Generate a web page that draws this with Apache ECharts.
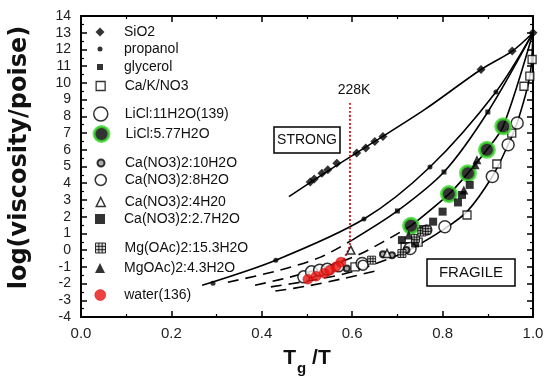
<!DOCTYPE html>
<html><head><meta charset="utf-8">
<script src="https://cdn.jsdelivr.net/npm/echarts@6/dist/echarts.min.js"></script>
<style>html,body{margin:0;padding:0;background:#fff}#c{width:547px;height:383px}</style>
</head><body><div id="c"></div>
<script>
// ---------------- data ----------------
const xTickValues = [0.0, 0.2, 0.4, 0.6, 0.8, 1.0];
const yTickValues = [-4,-3,-2,-1,0,1,2,3,4,5,6,7,8,9,10,11,12,13,14];

const legendNames = ['SiO2','propanol','glycerol','Ca/K/NO3','LiCl:11H2O(139)','LiCl:5.77H2O',
  'Ca(NO3)2:10H2O','Ca(NO3)2:8H2O','Ca(NO3)2:4H20','Ca(NO3)2:2.7H2O','Mg(OAc)2:15.3H2O','MgOAc)2:4.3H2O','water(136)'];

// solid curves
const sio2LineX = [0.46,0.55,0.65,0.76,0.885,0.954,1.0];
const sio2LineY = [3.2,4.8,6.5,8.4,10.8,11.9,13.0];
const propLineX = [0.268,0.431,0.626,0.772,0.918,1.0];
const propLineY = [-2.1,-0.6,1.86,4.97,9.46,13.0];
const glyLineX = [0.60,0.70,0.803,0.90,1.0];
const glyLineY = [0.6,2.34,4.67,8.26,13.0];
const greenLineX = [0.73,0.814,0.856,0.898,0.934,1.0];
const greenLineY = [1.45,3.35,4.6,6.0,7.4,13.0];
const lowLineX = [0.72,0.80,0.854,0.91,0.945,0.965,0.993,1.0];
const lowLineY = [-0.1,1.2,2.3,4.4,6.3,7.6,10.4,13.0];
// dashed curves
const dashAX = [0.325,0.44,0.53,0.60];
const dashAY = [-1.92,-1.2,-0.42,0.6];
const dashBX = [0.385,0.45,0.53,0.62,0.73];
const dashBY = [-2.1,-1.7,-1.1,-0.2,1.45];
const dashCX = [0.42,0.50,0.60,0.72];
const dashCY = [-2.2,-1.85,-1.3,-0.1];
const dashDX = [0.43,0.50,0.58,0.66];
const dashDY = [-2.45,-2.15,-1.7,-1.2];
// 228K red dotted trace
const redLineX = [0.595,0.595,0.584,0.575];
const redLineY = [8.8,0.48,-0.42,-0.78];

// markers
const sio2X = [0.507,0.516,0.533,0.546,0.566,0.61,0.63,0.65,0.668,0.885,0.954,1.0];
const sio2Y = [4.07,4.25,4.6,4.8,5.2,5.8,6.1,6.5,6.8,10.8,11.9,13.0];
const propX = [0.292,0.431,0.626,0.772,0.918];
const propY = [-1.98,-0.6,1.86,4.97,9.46];
const glyX = [0.70,0.803,0.90];
const glyY = [2.34,4.67,8.26];
const cknX = [0.606,0.717,0.746,0.854,0.92,0.953,0.98,0.993,0.998];
const cknY = [-1.0,0.2,0.48,2.1,5.15,7.0,9.8,10.4,11.4];
const licl11X = [0.493,0.51,0.528,0.545,0.622,0.728,0.805,0.91,0.945,0.965];
const licl11Y = [-1.6,-1.3,-1.2,-1.15,-0.8,0.1,1.4,4.4,6.3,7.6];
const licl577X = [0.73,0.814,0.856,0.898,0.934];
const licl577Y = [1.45,3.35,4.6,6.0,7.4];
const can10X = [0.588,0.668,0.688,0.72];
const can10Y = [-1.1,-0.25,-0.3,0.0];
const can8X = [0.57,0.624,0.765];
const can8Y = [-1.0,-0.9,1.2];
const can4X = [0.597,0.677];
const can4Y = [0.0,-0.2];
const can27X = [0.71,0.739,0.757,0.779,0.80,0.834,0.843,0.86];
const can27Y = [0.6,0.4,1.26,1.7,2.3,2.85,3.3,3.9];
const mg15X = [0.643,0.71,0.74,0.754,0.765];
const mg15Y = [-0.6,-0.2,0.7,1.08,1.2];
const mg43X = [0.725,0.847,0.872,0.876];
const mg43Y = [0.9,3.6,5.1,5.4];
const waterX = [0.502,0.52,0.538,0.551,0.564,0.575];
const waterY = [-1.74,-1.56,-1.38,-1.2,-1.0,-0.72];

// ---------------- styling / layout ----------------
const FONT = 'Liberation Sans, Arial, sans-serif';
const pairs = (xs, ys) => xs.map((x, i) => [x, ys[i]]);
const gridSquare = 'path://M0,0H10V10H0Z M3.33,0V10 M6.67,0V10 M0,3.33H10 M0,6.67H10';

const markerStyles = [
  {symbol:'diamond', size:9, icon:9, style:{color:'#000'}},
  {symbol:'circle', size:5, icon:5, style:{color:'#000'}},
  {symbol:'rect', size:5, icon:6, style:{color:'#000'}},
  {symbol:'rect', size:8, icon:9, style:{color:'#fff', borderColor:'#000', borderWidth:1.3}},
  {symbol:'circle', size:12, icon:14, style:{color:'#fff', borderColor:'#000', borderWidth:1.5}},
  {symbol:'circle', size:15, icon:15, style:{color:'#000', borderColor:'#3ddc2e', borderWidth:3}},
  {symbol:'circle', size:6, icon:7, style:{color:'#999', borderColor:'#000', borderWidth:2}},
  {symbol:'circle', size:10, icon:11, style:{color:'#fff', borderColor:'#000', borderWidth:1.5}},
  {symbol:'triangle', size:8, icon:9, style:{color:'#fff', borderColor:'#000', borderWidth:1.5}},
  {symbol:'rect', size:8, icon:10, style:{color:'#000'}},
  {symbol:'path', size:8, icon:10, style:{color:'#ccc', borderColor:'#000', borderWidth:1}},
  {symbol:'triangle', size:9, icon:10, style:{color:'#000'}},
  {symbol:'circle', size:10, icon:11, style:{color:'#e8130f', borderColor:'#b00', borderWidth:0.5}}
];
const markerData = [
  [sio2X,sio2Y],[propX,propY],[glyX,glyY],[cknX,cknY],[licl11X,licl11Y],[licl577X,licl577Y],
  [can10X,can10Y],[can8X,can8Y],[can4X,can4Y],[can27X,can27Y],[mg15X,mg15Y],[mg43X,mg43Y],[waterX,waterY]
];
const legendRowY = [32,49,67,86,114,133,163,180,202,219,248,268,295];
const legendIconCenterX = 100, legendTextX = 124;

function lineSeries(xs, ys, dashed) {
  return {type:'line', data:pairs(xs, ys), showSymbol:false, symbol:'none', smooth:0.3,
    silent:true, z:2, lineStyle:{color:'#000', width:1.6, type: dashed ? [11,7] : 'solid'}};
}
const series = [
  lineSeries(sio2LineX, sio2LineY, false),
  lineSeries(propLineX, propLineY, false),
  lineSeries(glyLineX, glyLineY, false),
  lineSeries(greenLineX, greenLineY, false),
  lineSeries(lowLineX, lowLineY, false),
  lineSeries(dashAX, dashAY, true),
  lineSeries(dashBX, dashBY, true),
  lineSeries(dashCX, dashCY, true),
  lineSeries(dashDX, dashDY, true),
  {type:'line', data:pairs(redLineX, redLineY), showSymbol:false, symbol:'none', smooth:0.4, silent:true, z:3,
   lineStyle:{color:'#d4202a', width:2, type:[2,2]}}
];
legendNames.forEach((name, i) => {
  const m = markerStyles[i];
  series.push({type:'scatter', name, data:pairs(markerData[i][0], markerData[i][1]),
    symbol: m.symbol === 'path' ? gridSquare : m.symbol, symbolSize:m.size,
    itemStyle:Object.assign({}, m.style), z: 5 + (i === 12 ? 2 : 0), silent:true});
});

const legends = legendNames.map((name, i) => {
  const m = markerStyles[i];
  const s = m.icon;
  return {
    left:legendIconCenterX - s/2, top:legendRowY[i] - 8, padding:0, itemWidth:s, itemHeight:s, selectedMode:false,
    data:[{name, icon: m.symbol === 'path' ? gridSquare : m.symbol, itemStyle:Object.assign({}, m.style)}],
    textStyle:{fontFamily:FONT, fontSize:14, lineHeight:16, color:'#111',
      padding:[0,0,0, legendTextX - (legendIconCenterX + s/2 + 5)]}
  };
});

const axisCommon = {
  type:'value', splitLine:{show:false},
  axisLine:{show:true, onZero:false, lineStyle:{color:'#000', width:2}},
  axisTick:{show:true, inside:true, length:6, lineStyle:{color:'#000', width:1.5}},
  minorTick:{show:true, splitNumber:2, length:3, lineStyle:{color:'#000', width:1.2}}
};

const option = {
  animation:false,
  backgroundColor:'#fff',
  grid:{left:81, right:14, top:16, bottom:66},
  legend: legends,
  xAxis:[
    Object.assign({}, axisCommon, {
      position:'bottom', min:xTickValues[0], max:xTickValues[xTickValues.length-1], interval:0.2,
      axisLabel:{formatter:v => v.toFixed(1), fontFamily:FONT, fontSize:15, color:'#222', margin:9},
      name:'{a|T}{b|g}{a| /T}', nameLocation:'middle', nameGap:31,
      nameTextStyle:{rich:{
        a:{fontFamily:FONT, fontSize:21, fontWeight:'bold', color:'#111', lineHeight:22, verticalAlign:'top'},
        b:{fontFamily:FONT, fontSize:15, fontWeight:'bold', color:'#111', lineHeight:15, padding:[13,0,0,1], verticalAlign:'top'}
      }}
    }),
    Object.assign({}, axisCommon, {position:'top', min:0, max:1, interval:0.2, axisLabel:{show:false}})
  ],
  yAxis:[
    Object.assign({}, axisCommon, {
      position:'left', min:yTickValues[0], max:yTickValues[yTickValues.length-1], interval:1,
      axisLabel:{fontFamily:FONT, fontSize:14, color:'#222', margin:10},
      name:'log(viscosity/poise)', nameLocation:'middle', nameRotate:90, nameGap:49,
      nameTextStyle:{fontFamily:'DejaVu Sans', fontSize:24, fontWeight:'bold', color:'#111', padding:[0,0,0,18]}
    }),
    Object.assign({}, axisCommon, {position:'right', min:-4, max:14, interval:1, axisLabel:{show:false}})
  ],
  series,
  graphic:[
    {type:'rect', shape:{x:274, y:127, width:66, height:26}, style:{fill:'#fff', stroke:'#000', lineWidth:1.5}, z:10},
    {type:'text', x:307, y:140, style:{text:'STRONG', font:'14px ' + FONT, fill:'#111', align:'center', verticalAlign:'middle'}, z:11},
    {type:'rect', shape:{x:427, y:259, width:88, height:27}, style:{fill:'#fff', stroke:'#000', lineWidth:1.5}, z:10},
    {type:'text', x:471, y:273, style:{text:'FRAGILE', font:'15px ' + FONT, fill:'#111', align:'center', verticalAlign:'middle'}, z:11},
    {type:'text', x:354, y:90, style:{text:'228K', font:'14px ' + FONT, fill:'#111', align:'center', verticalAlign:'middle'}, z:11}
  ]
};
const chart = echarts.init(document.getElementById('c'), null, {renderer:'canvas'});
chart.setOption(option);
</script></body></html>
